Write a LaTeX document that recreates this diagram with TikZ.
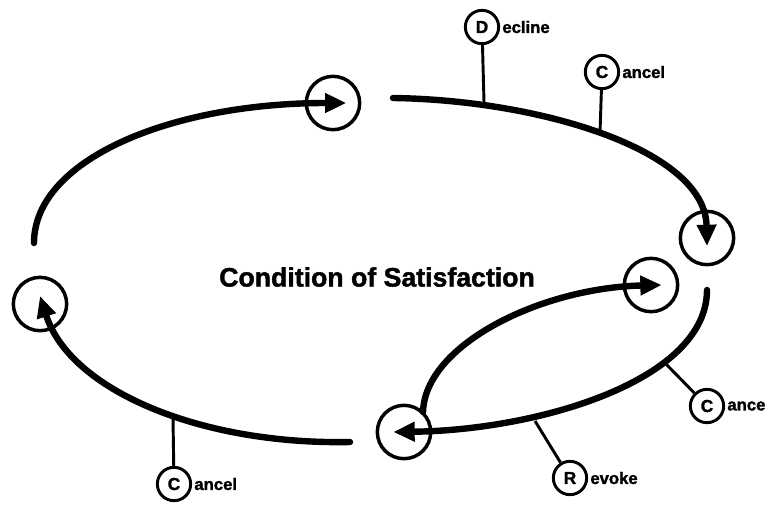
\documentclass[tikz,border=0pt]{standalone}
\usepackage{fontspec}
\setmainfont{Liberation Sans}[BoldFeatures={FakeBold=1.6}]
\usetikzlibrary{arrows.meta, positioning}

\tikzset{
  stage/.style={circle, draw, line width=2.6pt, minimum size=40pt, inner sep=0pt},
  flow/.style={-{Triangle[length=16pt,width=14pt]}, line width=4.8pt, line cap=round},
  letterbox/.style={circle, draw, line width=2.2pt, minimum size=25pt, inner sep=0pt,
    font=\fontsize{13}{13}\selectfont\bfseries},
  rest/.style={inner sep=0pt, font=\fontsize{12.5}{12.5}\selectfont\bfseries},
  stem/.style={line width=2.2pt},
  heading/.style={font=\fontsize{20}{20}\selectfont\bfseries},
}

\begin{document}
\begin{tikzpicture}[x=0.75pt, y=-0.75pt]
  \useasboundingbox (0,0) rectangle (771,507);

  \node[heading] (cos) at (377,277) {Condition of Satisfaction};

  % stages of the loop
  \node[stage] (top) at (333,103) {};
  \node[stage] (right) at (707,238) {};
  \node[stage] (inner) at (651,285) {};
  \node[stage] (bottom) at (404,432) {};
  \node[stage] (left) at (40,304) {};

  % free ends of the loop arcs
  \coordinate (s1) at (34,243);
  \coordinate (s2) at (393,98);
  \coordinate (s3) at (707,290);
  \coordinate (s4) at (423,412);
  \coordinate (s5) at (350,442);

  \draw[flow] (s1) .. controls (34,160) and (170,103) .. ([xshift=10pt]top.center);
  \draw[flow] (s2) .. controls (540,100) and (705,150) .. ([yshift=-6pt]right.center);
  \draw[flow] (s3) .. controls (707,380) and (540,430) .. ([xshift=-8pt]bottom.center);
  \draw[flow] (s4) .. controls (425,345) and (540,288) .. ([xshift=8pt]inner.center);
  \draw[flow] (s5) .. controls (200,445) and (70,390) .. ([yshift=6pt]left.center);

  % points where the moves leave the loop
  \coordinate (dTick) at (484,102);
  \coordinate (cTickA) at (600,133);
  \coordinate (cTickB) at (665,363);
  \coordinate (rTick) at (535,421);
  \coordinate (cTickC) at (173,418);

  \node[letterbox] (dec) at (482,27) {D};
  \node[rest, right=1.5pt of dec] (decW) {ecline};
  \node[letterbox] (canA) at (602,72) {C};
  \node[rest, right=1.5pt of canA] (canAW) {ancel};
  \node[letterbox] (canB) at (707,406) {C};
  \node[rest, right=1.5pt of canB] (canBW) {ance};
  \node[letterbox] (rev) at (570,478) {R};
  \node[rest, right=1.5pt of rev] (revW) {evoke};
  \node[letterbox] (canC) at (174,484) {C};
  \node[rest, right=1.5pt of canC] (canCW) {ancel};

  \draw[stem] (dec) -- (dTick);
  \draw[stem] (canA) -- (cTickA);
  \draw[stem] (canB) -- (cTickB);
  \draw[stem] (rev) -- (rTick);
  \draw[stem] (canC) -- (cTickC);

\end{tikzpicture}
\end{document}
